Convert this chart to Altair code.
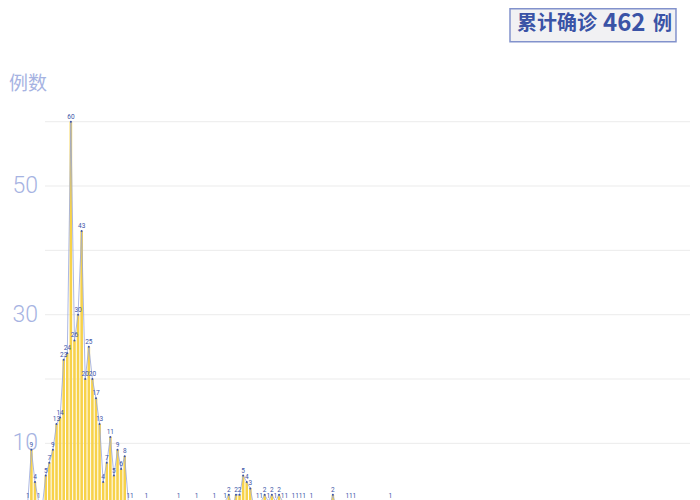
import altair as alt
import pandas as pd

# daily confirmed cases (index = day number)
values = [1, 9, 4, 1, 0, 5, 7, 9, 13, 14,
          23, 24, 60, 26, 30, 43, 20, 25, 20, 17,
          13, 4, 7, 11, 5, 9, 6, 8, 1, 1,
          0, 0, 0, 1, 0, 0, 0, 0, 0, 0,
          0, 0, 1, 0, 0, 0, 0, 1, 0, 0,
          0, 0, 1, 0, 0, 1, 2, 0, 2, 2,
          5, 4, 3, 0, 1, 1, 2, 1, 2, 1,
          2, 1, 1, 0, 1, 1, 1, 1, 0, 1,
          0, 0, 0, 0, 0, 2, 0, 0, 0, 1,
          1, 1, 0, 0, 0, 0, 0, 0, 0, 0,
          0, 1]
days = list(range(len(values)))
grid_values = [10, 20, 30, 40, 50, 60]
tick_values = [10, 30, 50]
tick_labels = ["10", "30", "50"]
total_text = ["累计确诊", "462", "例"]

W, H = 664, 386
PAD_L, PAD_T = 18, 113.7

df = pd.DataFrame({"day": days, "cases": values})
xscale = alt.Scale(domain=[-0.5, 184.5], nice=False, zero=False, padding=0)
yscale = alt.Scale(domain=[0, 60], nice=False, padding=0)
X = alt.X("day:Q", scale=xscale, axis=None)
Y = alt.Y("cases:Q", scale=yscale, axis=None)

grid = alt.Chart(pd.DataFrame({"v": grid_values})).mark_rule(
    color="#ebebeb", strokeWidth=1
).encode(y=alt.Y("v:Q", scale=yscale, axis=None), x=alt.value(19), x2=alt.value(W))

ticks = alt.Chart(pd.DataFrame({"v": tick_values, "t": tick_labels})).mark_text(
    align="right", baseline="middle", fontSize=23, fontWeight=300,
    font="Roboto", color="#a6b3e2"
).encode(y=alt.Y("v:Q", scale=yscale, axis=None), x=alt.value(12), text="t:N")

ytitle = alt.Chart(pd.DataFrame({"t": ["例数"]})).mark_text(
    align="left", baseline="middle", fontSize=19, font="Noto Sans CJK SC",
    color="#a6b3e2"
).encode(x=alt.value(-17), y=alt.value(-38), text="t:N")

bars = alt.Chart(df).mark_bar(color="#f7d24a", size=2.6).encode(x=X, y=Y)
line = alt.Chart(df).mark_line(color="#97a6dc", strokeWidth=0.8).encode(x=X, y=Y)
pts = alt.Chart(df).transform_filter("datum.cases > 0").mark_point(
    filled=True, size=4, color="#3d55a8", opacity=1
).encode(x=X, y=Y)
lbl = alt.Chart(df).transform_filter("datum.cases > 0").mark_text(
    fontSize=6.5, dy=-5, color="#3d55a8", font="Roboto"
).encode(x=X, y=Y, text="cases:Q")

box = alt.Chart(pd.DataFrame({"k": [1]})).mark_rect(
    fill="#f1f1f3", stroke="#8292cc", strokeWidth=1.5
).encode(x=alt.value(484), x2=alt.value(650), y=alt.value(-113), y2=alt.value(-80))

box_df = pd.DataFrame({"t": total_text, "xp": [491, 577, 627], "fs": [20, 24, 19]})
box_txt = alt.layer(*[
    alt.Chart(pd.DataFrame({"t": [t]})).mark_text(
        align="left", baseline="middle", fontSize=fs, fontWeight="bold",
        font="Noto Sans CJK SC", color="#3a53a6"
    ).encode(x=alt.value(xp), y=alt.value(-98), text="t:N")
    for t, xp, fs in zip(box_df["t"], box_df["xp"], box_df["fs"])
])

chart = alt.layer(grid, ticks, ytitle, bars, line, pts, lbl, box, box_txt).properties(
    width=W, height=H,
    padding={"left": PAD_L, "top": PAD_T, "right": 2, "bottom": 2},
    autosize=alt.AutoSizeParams(type="none"),
    background="white",
).configure_view(stroke=None)

chart.save("out.html", embed_options={"renderer": "svg", "actions": False})
